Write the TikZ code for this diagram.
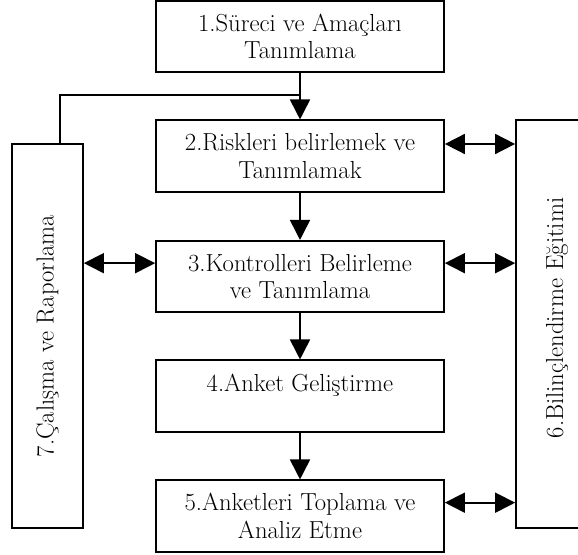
\documentclass[tikz,border=0pt]{standalone}
\usetikzlibrary{arrows.meta,calc}
\begin{document}
\begin{tikzpicture}[x=0.75pt,y=-0.75pt,
  txt/.style={font=\fontsize{18.5}{20.5}\selectfont},
  box/.style={draw,line width=1.3pt,rectangle,inner sep=0pt,minimum width=216pt,minimum height=53.5pt,align=center,txt},
  sidebox/.style={draw,line width=1.3pt,rectangle,inner sep=0pt},
  conn/.style={line width=1.3pt},
  tip/.style={-{Triangle[length=15pt,width=15pt]}},
  dtip/.style={{Triangle[length=15pt,width=15pt]}-{Triangle[length=15pt,width=15pt]}}
]
\useasboundingbox (0,0) rectangle (578,555);
\node[box] (b1) at (300,36.5) {1.Süreci ve Amaçları\\Tanımlama};
\node[box] (b2) at (300,156) {2.Riskleri belirlemek ve\\Tanımlamak};
\node[box] (b3) at (300,276.5) {3.Kontrolleri Belirleme\\ve Tanımlama};
\node[box] (b4) at (300,396) {4.Anket Geliştirme\\\mbox{}};
\node[box] (b5) at (300,516) {5.Anketleri Toplama ve\\Analiz Etme};
\node[sidebox,minimum width=53.25pt,minimum height=288pt] (b7) at (47.5,336) {};
\node[rotate=90,txt] (t7) at (b7.center) {7.Çalışma ve Raporlama};
\node[sidebox,minimum width=66pt,minimum height=306pt] (b6) at (560,324) {};
\node[rotate=90,txt] (t6) at (557,318) {6.Bilinçlendirme Eğitimi};
\coordinate (c7) at (60,144);
\coordinate (j) at (300,95);
\draw[conn,tip] (b1.south) -- (b2.north);
\draw[conn] (c7) |- (j);
\draw[conn,tip] (b2.south) -- (b3.north);
\draw[conn,tip] (b3.south) -- (b4.north);
\draw[conn,tip] (b4.south) -- (b5.north);
\draw[conn,dtip] ([yshift=9pt]b2.east) -- ([yshift=9pt]b2.east -| b6.west);
\draw[conn,dtip] ([yshift=10pt]b3.east) -- ([yshift=10pt]b3.east -| b6.west);
\draw[conn,dtip] ([yshift=10pt]b5.east) -- ([yshift=10pt]b5.east -| b6.west);
\draw[conn,dtip] ([yshift=10pt]b3.west) -- ([yshift=10pt]b3.west -| b7.east);
\end{tikzpicture}
\end{document}
